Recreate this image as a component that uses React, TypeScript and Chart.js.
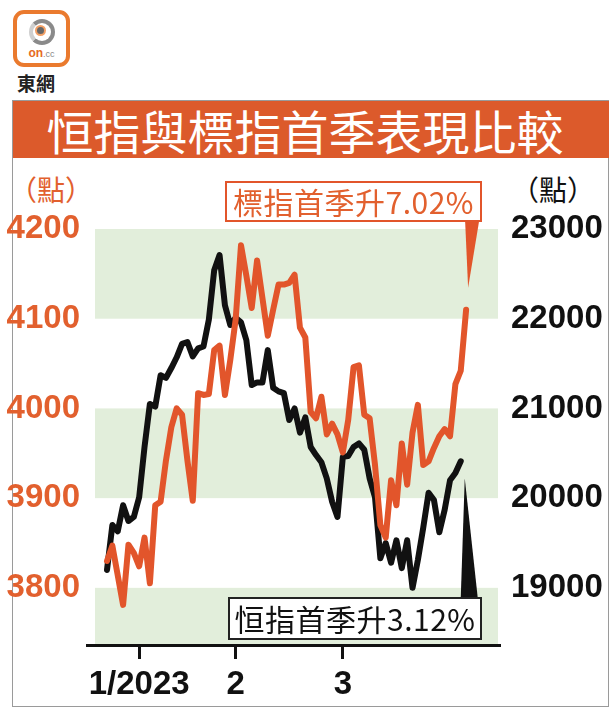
import React, { useEffect, useRef } from "react";
import { Chart, registerables } from "chart.js";

Chart.register(...registerables);

// 標指 (left axis) daily closes
const spxValues = [
  3830, 3847, 3814, 3781, 3848, 3839, 3824, 3856, 3805, 3892,
  3896, 3942, 3979, 4000, 3993, 3942, 3897, 4017, 4015, 4016,
  4065, 4070, 4015, 4054, 4099, 4182, 4148, 4112, 4165, 4123,
  4081, 4110, 4138, 4138, 4140, 4149, 4090, 4079, 3996, 3989,
  4013, 3971, 3983, 3971, 3951, 3987, 4046, 4048, 3993, 3989,
  3937, 3870, 3856, 3920, 3892, 3961, 3915, 3973, 4004, 3937,
  3941, 3956, 3969, 3977, 3969, 4027, 4042, 4110,
];

// 恒指 (right axis) daily closes
const hsiValues = [
  19200, 19700, 19630, 19920, 19745, 19790, 20010, 20570, 21050, 21020,
  21370, 21340, 21450, 21570, 21720, 21740, 21580, 21670, 21690, 21990,
  22540, 22710, 22150, 21930, 22010, 21960, 21760, 21260, 21290, 21290,
  21650, 21230, 21190, 21170, 20870, 21000, 20730, 20900, 20570, 20480,
  20400, 20220, 19960, 19790, 20460, 20470, 20570, 20610, 20540, 20220,
  20010, 19330, 19500, 19280, 19530, 19220, 19530, 19000, 19310, 19670,
  20060, 19980, 19620, 19870, 20200, 20280, 20410,
];

const leftTicks = [3800, 3900, 4000, 4100, 4200];
const rightTicks = [19000, 20000, 21000, 22000, 23000];
const xTickPositions = [6, 24, 44];
const xTickLabels = ["1/2023", "2", "3"];
const bands = [
  [4100, 4200],
  [3900, 4000],
  [3700, 3800],
];

const LEFT_MIN = 3737.4;
const LEFT_MAX = 4200;
const RIGHT_MIN = 18374;
const RIGHT_MAX = 23000;

const ORANGE = "#e2552b";
const ORANGE_TEXT = "#e2602e";
const TITLE_BG = "#dc5a2b";
const GREEN = "#e2eedb";
const BLACK = "#111111";
const CJK = '"Noto Sans CJK TC", "Noto Sans CJK SC", sans-serif';
const LATIN = '"Liberation Sans", Arial, sans-serif';

const decoPlugin = {
  id: "deco",
  beforeDatasetsDraw(chart: any) {
    const { ctx, chartArea: a, scales } = chart;
    const y = scales.yL;
    ctx.save();
    ctx.fillStyle = GREEN;
    for (const [lo, hi] of bands) {
      const top = Math.max(y.getPixelForValue(hi), a.top);
      const bot = Math.min(y.getPixelForValue(lo), a.bottom);
      if (bot > top) ctx.fillRect(a.left, top, a.right - a.left, bot - top);
    }
    ctx.restore();
  },
  afterDraw(chart: any) {
    const { ctx, chartArea: a, scales } = chart;
    ctx.save();
    // bottom axis line
    ctx.fillStyle = BLACK;
    ctx.fillRect(a.left - 9, a.bottom, a.right - a.left + 12, 3);
    // orange pointer to last 標指 point
    const ox = scales.x.getPixelForValue(spxValues.length - 1);
    const oy = scales.yL.getPixelForValue(spxValues[spxValues.length - 1]);
    ctx.fillStyle = ORANGE;
    ctx.beginPath();
    ctx.moveTo(ox - 1, a.top - 8);
    ctx.lineTo(ox + 13, a.top - 8);
    ctx.lineTo(ox + 2, oy - 22);
    ctx.closePath();
    ctx.fill();
    // black pointer to last 恒指 point
    const bx = scales.x.getPixelForValue(hsiValues.length - 1);
    const by = scales.yR.getPixelForValue(hsiValues[hsiValues.length - 1]);
    ctx.fillStyle = BLACK;
    ctx.beginPath();
    ctx.moveTo(bx + 4, by + 17);
    ctx.lineTo(bx + 17, a.bottom - 46);
    ctx.lineTo(bx, a.bottom - 46);
    ctx.closePath();
    ctx.fill();
    ctx.restore();
  },
};

function ChartCanvas() {
  const ref = useRef<HTMLCanvasElement | null>(null);
  useEffect(() => {
    if (!ref.current) return;
    const tickFont = { family: LATIN, size: 33, weight: "bold" as const };
    const chart = new Chart(ref.current, {
      type: "line",
      data: {
        datasets: [
          {
            label: "標指",
            data: spxValues.map((v, i) => ({ x: i, y: v })),
            yAxisID: "yL",
            borderColor: ORANGE,
            borderWidth: 6,
            pointRadius: 0,
            tension: 0,
            borderJoinStyle: "round",
            borderCapStyle: "round",
          },
          {
            label: "恒指",
            data: hsiValues.map((v, i) => ({ x: i, y: v })),
            yAxisID: "yR",
            borderColor: BLACK,
            borderWidth: 6,
            pointRadius: 0,
            tension: 0,
            borderJoinStyle: "round",
            borderCapStyle: "round",
          },
        ],
      },
      options: {
        animation: false,
        responsive: false,
        maintainAspectRatio: false,
        devicePixelRatio: 1,
        layout: { padding: { top: 229, left: 0, right: 0, bottom: 0 } },
        plugins: { legend: { display: false }, tooltip: { enabled: false } },
        scales: {
          x: {
            type: "linear",
            position: "bottom",
            min: -2.24,
            max: 72.95,
            afterBuildTicks: (s: any) => {
              s.ticks = xTickPositions.map((v) => ({ value: v }));
            },
            afterFit: (s: any) => {
              s.height = 72;
            },
            grid: {
              drawOnChartArea: false,
              drawTicks: true,
              tickLength: 15,
              lineWidth: 3,
              color: BLACK,
            },
            border: { display: false },
            ticks: {
              autoSkip: false,
              maxRotation: 0,
              color: BLACK,
              font: tickFont,
              padding: 6,
              callback: (v: any) => {
                const k = xTickPositions.indexOf(Number(v));
                return k >= 0 ? xTickLabels[k] : "";
              },
            },
          },
          yL: {
            type: "linear",
            position: "left",
            min: LEFT_MIN,
            max: LEFT_MAX,
            afterBuildTicks: (s: any) => {
              s.ticks = leftTicks.map((v) => ({ value: v }));
            },
            afterFit: (s: any) => {
              s.width = 95;
            },
            grid: { display: false },
            border: { display: false },
            ticks: {
              color: ORANGE_TEXT,
              font: tickFont,
              padding: 7,
              callback: (v: any) => String(v),
            },
          },
          yR: {
            type: "linear",
            position: "right",
            min: RIGHT_MIN,
            max: RIGHT_MAX,
            afterBuildTicks: (s: any) => {
              s.ticks = rightTicks.map((v) => ({ value: v }));
            },
            afterFit: (s: any) => {
              s.width = 111;
            },
            grid: { display: false },
            border: { display: false },
            ticks: {
              color: BLACK,
              font: tickFont,
              padding: 5,
              callback: (v: any) => String(v),
            },
          },
        },
      },
      plugins: [decoPlugin],
    } as any);
    return () => chart.destroy();
  }, []);
  return (
    <canvas
      ref={ref}
      width={609}
      height={716}
      style={{ position: "absolute", left: 0, top: 0, width: 609, height: 716 }}
    />
  );
}

export default function App() {
  return (
    <div
      style={{
        position: "fixed",
        left: 0,
        top: 0,
        width: 609,
        height: 716,
        background: "#fff",
        overflow: "hidden",
        fontFamily: CJK,
      }}
    >
      {/* logo */}
      <div
        style={{
          position: "absolute",
          left: 13,
          top: 10,
          width: 49,
          height: 49,
          border: "4px solid #ea7a2e",
          borderRadius: 11,
          background: "#fff",
        }}
      >
        <div
          style={{
            position: "absolute",
            left: 12,
            top: 5,
            width: 18,
            height: 18,
            borderRadius: "50%",
            border: "4px solid #8a8a8a",
            borderLeftColor: "#cfcfcf",
          }}
        />
        <div
          style={{
            position: "absolute",
            left: 20,
            top: 13,
            width: 7,
            height: 7,
            borderRadius: "50%",
            background: "#666",
            boxShadow: "0 0 0 2px #f2a066",
          }}
        />
        <div
          style={{
            position: "absolute",
            left: 0,
            top: 32,
            width: 49,
            textAlign: "center",
            fontFamily: LATIN,
            fontSize: 12,
            fontWeight: "bold",
            color: "#e66a22",
            lineHeight: "14px",
          }}
        >
          on<span style={{ fontSize: 9, color: "#888", fontWeight: "normal" }}>.cc</span>
        </div>
      </div>
      <div
        style={{
          position: "absolute",
          left: 17,
          top: 70,
          fontSize: 19,
          fontWeight: "bold",
          color: "#222",
          lineHeight: "26px",
        }}
      >
        東網
      </div>

      {/* frame */}
      <div
        style={{
          position: "absolute",
          left: 12,
          top: 100,
          width: 595,
          height: 605,
          border: "1px solid #9a9a9a",
        }}
      />

      {/* title */}
      <div
        style={{
          position: "absolute",
          left: 13,
          top: 101,
          width: 596,
          height: 57,
          background: TITLE_BG,
        }}
      />
      <div
        style={{
          position: "absolute",
          left: 13,
          top: 101,
          width: 584,
          height: 57,
          lineHeight: "57px",
          textAlign: "center",
          color: "#fff",
          fontSize: 47,
          whiteSpace: "nowrap",
        }}
      >
        恒指與標指首季表現比較
      </div>

      {/* unit labels */}
      <div
        style={{
          position: "absolute",
          left: 9,
          top: 171,
          fontSize: 28,
          color: ORANGE_TEXT,
          lineHeight: "36px",
          whiteSpace: "nowrap",
        }}
      >
        （點）
      </div>
      <div
        style={{
          position: "absolute",
          left: 511,
          top: 171,
          fontSize: 28,
          color: BLACK,
          lineHeight: "36px",
          whiteSpace: "nowrap",
        }}
      >
        （點）
      </div>

      <ChartCanvas />

      {/* annotation boxes */}
      <div
        style={{
          position: "absolute",
          left: 225,
          top: 181,
          width: 253,
          height: 37,
          border: "2px solid " + ORANGE,
          background: "#fff",
          color: ORANGE_TEXT,
          fontSize: 30,
          lineHeight: "37px",
          textAlign: "center",
          whiteSpace: "nowrap",
          letterSpacing: 0.5,
        }}
      >
        標指首季升7.02%
      </div>
      <div
        style={{
          position: "absolute",
          left: 228,
          top: 597,
          width: 250,
          height: 39,
          border: "2px solid #222",
          background: "#fff",
          color: BLACK,
          fontSize: 30,
          lineHeight: "39px",
          textAlign: "center",
          whiteSpace: "nowrap",
          letterSpacing: 0.5,
        }}
      >
        恒指首季升3.12%
      </div>
    </div>
  );
}
